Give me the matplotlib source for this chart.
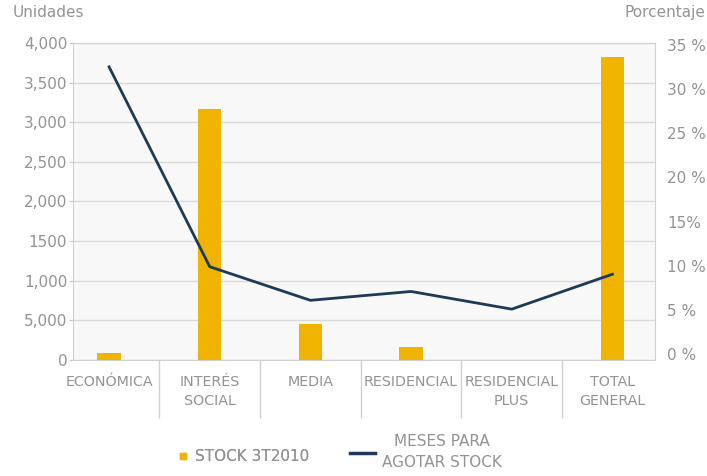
import matplotlib.pyplot as plt
from matplotlib.lines import Line2D

# %% data
categories = ["ECONÓMICA", "INTERÉS\nSOCIAL", "MEDIA", "RESIDENCIAL",
              "RESIDENCIAL\nPLUS", "TOTAL\nGENERAL"]
stock = [90, 3170, 455, 165, 0, 3825]
meses_pct = [32.5, 9.9, 6.1, 7.1, 5.1, 9.05]

left_ticks = [0, 500, 1000, 1500, 2000, 2500, 3000, 3500, 4000]
left_labels = ["0", "5,000", "1,000", "1500", "2,000", "2,500", "3,000", "3,500", "4,000"]
right_ticks = [0, 5, 10, 15, 20, 25, 30, 35]
right_labels = ["0 %", "5 %", "10 %", "15%", "20 %", "25 %", "30 %", "35 %"]

grey = "#939393"
yellow = "#f0b400"
navy = "#1e3a58"

plt.rcParams["font.family"] = ["DejaVu Sans"]

# %% plotting
fig = plt.figure(figsize=(7.07, 4.76), dpi=100)
ax = fig.add_axes([0.103, 0.2437, 0.823, 0.666])
ax.set_facecolor("#f8f8f8")

x = list(range(len(categories)))
ax.bar(x, stock, width=0.23, color=yellow, zorder=3)

ax.set_ylim(0, 4000)
ax.set_xlim(-0.36, 5.42)
ax.set_yticks(left_ticks)
ax.set_yticklabels(left_labels)
ax.grid(axis="y", color="#d9d9d9", lw=1, zorder=0)
ax.tick_params(axis="y", colors="#c8c8c8", labelcolor=grey, labelsize=11,
               length=3, pad=1)

ax.set_xticks(x)
ax.set_xticklabels(categories, color=grey, fontsize=10.3, linespacing=1.4)
ax.tick_params(axis="x", which="major", length=0, pad=11)
ax.set_xticks([i + 0.5 for i in x[:-1]], minor=True)
ax.tick_params(axis="x", which="minor", length=42, color="#d0d0d0", width=1)

for s in ax.spines.values():
    s.set_color("#d0d0d0")

ax2 = ax.twinx()
ax2.plot(x, meses_pct, color=navy, lw=2, zorder=4)
ax2.set_ylim(-0.65, 35.2)
ax2.set_yticks(right_ticks)
ax2.set_yticklabels(right_labels)
ax2.tick_params(axis="y", length=0, labelcolor=grey, labelsize=11, pad=9)
for s in ax2.spines.values():
    s.set_visible(False)

fig.text(13 / 707, 0.973, "Unidades", color=grey, fontsize=11, va="center")
fig.text(0.997, 0.973, "Porcentaje", color=grey, fontsize=11, va="center", ha="right")

# legend: two pieces so each handle can sit like the original
bar_handle = Line2D([], [], marker="s", color="none", markerfacecolor=yellow,
                    markeredgecolor=yellow, markersize=5)
line_handle = Line2D([], [], color=navy, lw=2.5)
leg1 = fig.legend([bar_handle], ["STOCK 3T2010"], loc="center left",
                  bbox_to_anchor=(177 / 707, 0.040), frameon=False, fontsize=11,
                  labelcolor=grey, handlelength=0.8, handletextpad=0.38,
                  borderpad=0, borderaxespad=0)
leg2 = fig.legend([line_handle], ["MESES PARA\nAGOTAR STOCK"], loc="center left",
                  bbox_to_anchor=(350 / 707, 0.050), frameon=False, fontsize=11,
                  labelcolor=grey, handlelength=1.64, handletextpad=0.46,
                  borderpad=0, borderaxespad=0)
for t in leg2.get_texts():
    t.set_multialignment("center")
    t.set_linespacing(1.45)
fig.add_artist(leg1)

fig.savefig("out.png", dpi=100)
